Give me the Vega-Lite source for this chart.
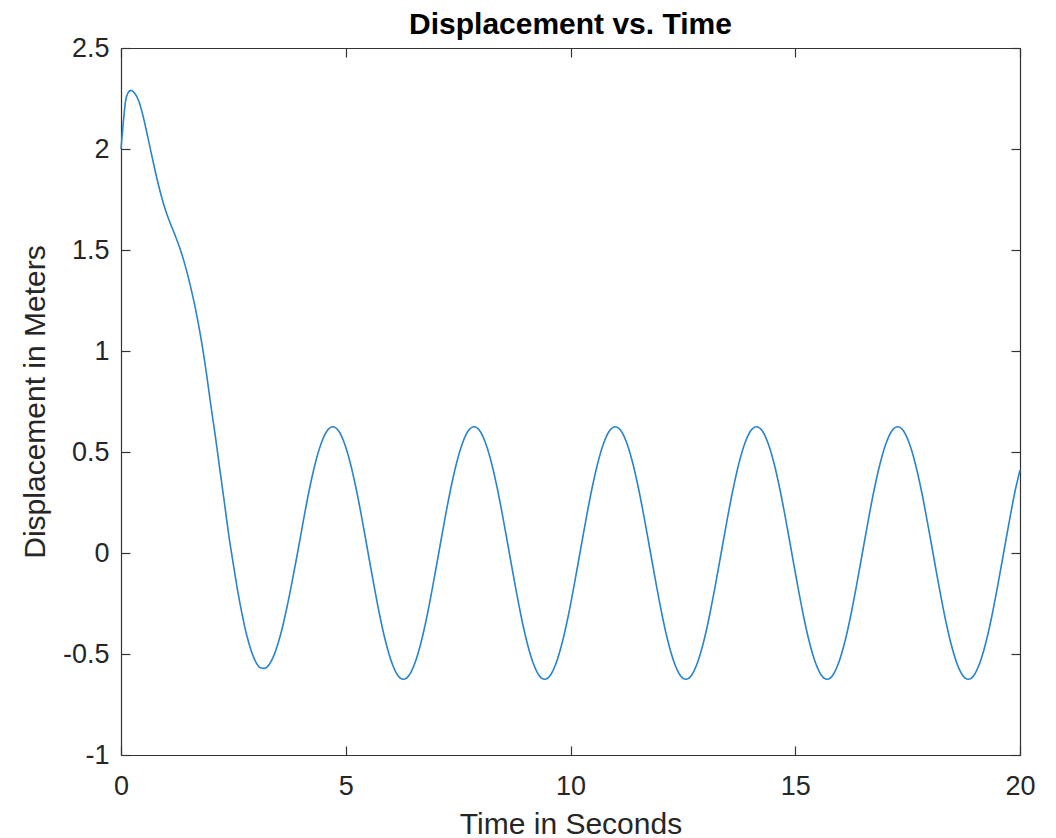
{
  "$schema": "https://vega.github.io/schema/vega-lite/v6.json",
  "width": 899,
  "height": 707,
  "autosize": {"type": "none"},
  "padding": {"left": 121, "top": 48, "right": 36, "bottom": 83},
  "background": "white",
  "title": {
    "text": "Displacement vs. Time",
    "font": "Liberation Sans",
    "fontSize": 30,
    "fontWeight": "bold",
    "color": "#000000",
    "anchor": "middle",
    "baseline": "alphabetic",
    "frame": "group",
    "offset": -30
  },
  "config": {
    "view": {"stroke": null},
    "axis": {
      "grid": false,
      "domainColor": "#333333",
      "domainWidth": 1.2,
      "tickColor": "#333333",
      "tickWidth": 1.2,
      "tickSize": -9,
      "labelFont": "Liberation Sans",
      "labelFontSize": 27,
      "labelColor": "#262626",
      "labelFlush": false,
      "labelOverlap": false,
      "labelBound": false,
      "titleFont": "Liberation Sans",
      "titleFontSize": 30,
      "titleFontWeight": "normal",
      "titleColor": "#262626"
    }
  },
  "data": {
    "values": [
      {"t": 0, "y": 2.0},
      {"t": 0.05, "y": 2.13},
      {"t": 0.1, "y": 2.235},
      {"t": 0.15, "y": 2.275},
      {"t": 0.22, "y": 2.29},
      {"t": 0.3, "y": 2.277},
      {"t": 0.4, "y": 2.235},
      {"t": 0.5, "y": 2.155},
      {"t": 0.6, "y": 2.055},
      {"t": 0.7, "y": 1.952},
      {"t": 0.8, "y": 1.853},
      {"t": 0.9, "y": 1.765},
      {"t": 1.0, "y": 1.69},
      {"t": 1.1, "y": 1.63},
      {"t": 1.2, "y": 1.575},
      {"t": 1.3, "y": 1.515},
      {"t": 1.4, "y": 1.445},
      {"t": 1.5, "y": 1.362},
      {"t": 1.6, "y": 1.268},
      {"t": 1.7, "y": 1.16},
      {"t": 1.8, "y": 1.035},
      {"t": 1.9, "y": 0.89},
      {"t": 2.0, "y": 0.729},
      {"t": 2.1, "y": 0.576},
      {"t": 2.2, "y": 0.412},
      {"t": 2.3, "y": 0.25},
      {"t": 2.4, "y": 0.085},
      {"t": 2.5, "y": -0.057},
      {"t": 2.6, "y": -0.193},
      {"t": 2.7, "y": -0.31},
      {"t": 2.8, "y": -0.41},
      {"t": 2.9, "y": -0.486},
      {"t": 3.0, "y": -0.54},
      {"t": 3.1, "y": -0.568},
      {"t": 3.2, "y": -0.571},
      {"t": 3.3, "y": -0.551},
      {"t": 3.4, "y": -0.508},
      {"t": 3.5, "y": -0.443},
      {"t": 3.6, "y": -0.36},
      {"t": 3.7, "y": -0.26},
      {"t": 3.8, "y": -0.149},
      {"t": 3.927, "y": 0},
      {"t": 4.0579, "y": 0.162},
      {"t": 4.1888, "y": 0.313},
      {"t": 4.3197, "y": 0.442},
      {"t": 4.4506, "y": 0.541},
      {"t": 4.5815, "y": 0.604},
      {"t": 4.7124, "y": 0.625},
      {"t": 4.8433, "y": 0.604},
      {"t": 4.9742, "y": 0.541},
      {"t": 5.1051, "y": 0.442},
      {"t": 5.236, "y": 0.313},
      {"t": 5.3669, "y": 0.162},
      {"t": 5.4978, "y": 0},
      {"t": 5.6287, "y": -0.162},
      {"t": 5.7596, "y": -0.313},
      {"t": 5.8905, "y": -0.442},
      {"t": 6.0214, "y": -0.541},
      {"t": 6.1523, "y": -0.604},
      {"t": 6.2832, "y": -0.625},
      {"t": 6.4141, "y": -0.604},
      {"t": 6.545, "y": -0.541},
      {"t": 6.6759, "y": -0.442},
      {"t": 6.8068, "y": -0.313},
      {"t": 6.9377, "y": -0.162},
      {"t": 7.0686, "y": 0},
      {"t": 7.1995, "y": 0.162},
      {"t": 7.3304, "y": 0.313},
      {"t": 7.4613, "y": 0.442},
      {"t": 7.5922, "y": 0.541},
      {"t": 7.7231, "y": 0.604},
      {"t": 7.854, "y": 0.625},
      {"t": 7.9849, "y": 0.604},
      {"t": 8.1158, "y": 0.541},
      {"t": 8.2467, "y": 0.442},
      {"t": 8.3776, "y": 0.313},
      {"t": 8.5085, "y": 0.162},
      {"t": 8.6394, "y": 0},
      {"t": 8.7703, "y": -0.162},
      {"t": 8.9012, "y": -0.313},
      {"t": 9.0321, "y": -0.442},
      {"t": 9.163, "y": -0.541},
      {"t": 9.2939, "y": -0.604},
      {"t": 9.4248, "y": -0.625},
      {"t": 9.5557, "y": -0.604},
      {"t": 9.6866, "y": -0.541},
      {"t": 9.8175, "y": -0.442},
      {"t": 9.9484, "y": -0.313},
      {"t": 10.0793, "y": -0.162},
      {"t": 10.2102, "y": 0},
      {"t": 10.3411, "y": 0.162},
      {"t": 10.472, "y": 0.313},
      {"t": 10.6029, "y": 0.442},
      {"t": 10.7338, "y": 0.541},
      {"t": 10.8647, "y": 0.604},
      {"t": 10.9956, "y": 0.625},
      {"t": 11.1265, "y": 0.604},
      {"t": 11.2574, "y": 0.541},
      {"t": 11.3883, "y": 0.442},
      {"t": 11.5192, "y": 0.313},
      {"t": 11.6501, "y": 0.162},
      {"t": 11.781, "y": 0},
      {"t": 11.9119, "y": -0.162},
      {"t": 12.0428, "y": -0.313},
      {"t": 12.1737, "y": -0.442},
      {"t": 12.3046, "y": -0.541},
      {"t": 12.4355, "y": -0.604},
      {"t": 12.5664, "y": -0.625},
      {"t": 12.6973, "y": -0.604},
      {"t": 12.8282, "y": -0.541},
      {"t": 12.9591, "y": -0.442},
      {"t": 13.09, "y": -0.313},
      {"t": 13.2209, "y": -0.162},
      {"t": 13.3518, "y": 0},
      {"t": 13.4827, "y": 0.162},
      {"t": 13.6136, "y": 0.313},
      {"t": 13.7445, "y": 0.442},
      {"t": 13.8754, "y": 0.541},
      {"t": 14.0063, "y": 0.604},
      {"t": 14.1372, "y": 0.625},
      {"t": 14.2681, "y": 0.604},
      {"t": 14.399, "y": 0.541},
      {"t": 14.5299, "y": 0.442},
      {"t": 14.6608, "y": 0.313},
      {"t": 14.7917, "y": 0.162},
      {"t": 14.9226, "y": 0},
      {"t": 15.0535, "y": -0.162},
      {"t": 15.1844, "y": -0.313},
      {"t": 15.3153, "y": -0.442},
      {"t": 15.4462, "y": -0.541},
      {"t": 15.5771, "y": -0.604},
      {"t": 15.708, "y": -0.625},
      {"t": 15.8389, "y": -0.604},
      {"t": 15.9698, "y": -0.541},
      {"t": 16.1007, "y": -0.442},
      {"t": 16.2316, "y": -0.313},
      {"t": 16.3625, "y": -0.162},
      {"t": 16.4934, "y": 0},
      {"t": 16.6243, "y": 0.162},
      {"t": 16.7552, "y": 0.313},
      {"t": 16.8861, "y": 0.442},
      {"t": 17.017, "y": 0.541},
      {"t": 17.1479, "y": 0.604},
      {"t": 17.2788, "y": 0.625},
      {"t": 17.4097, "y": 0.604},
      {"t": 17.5406, "y": 0.541},
      {"t": 17.6715, "y": 0.442},
      {"t": 17.8024, "y": 0.313},
      {"t": 17.9333, "y": 0.162},
      {"t": 18.0642, "y": 0},
      {"t": 18.1951, "y": -0.162},
      {"t": 18.326, "y": -0.313},
      {"t": 18.4569, "y": -0.442},
      {"t": 18.5878, "y": -0.541},
      {"t": 18.7187, "y": -0.604},
      {"t": 18.8496, "y": -0.625},
      {"t": 18.9805, "y": -0.604},
      {"t": 19.1114, "y": -0.541},
      {"t": 19.2423, "y": -0.442},
      {"t": 19.3732, "y": -0.313},
      {"t": 19.5041, "y": -0.162},
      {"t": 19.635, "y": 0},
      {"t": 19.7659, "y": 0.162},
      {"t": 19.8968, "y": 0.313},
      {"t": 20, "y": 0.41}
    ]
  },
  "layer": [
    {
      "mark": {"type": "line", "color": "#2a84cb", "strokeWidth": 1.6, "interpolate": "monotone"},
      "encoding": {
        "x": {
          "field": "t", "type": "quantitative",
          "scale": {"domain": [0, 20], "nice": false, "zero": false},
          "axis": {"orient": "bottom", "values": [0, 5, 10, 15, 20], "labelExpr": "'' + datum.value", "labelPadding": 27, "title": "Time in Seconds", "titlePadding": 10}
        },
        "y": {
          "field": "y", "type": "quantitative",
          "scale": {"domain": [-1, 2.5], "nice": false, "zero": false},
          "axis": {"orient": "left", "values": [-1, -0.5, 0, 0.5, 1, 1.5, 2, 2.5], "labelExpr": "'' + datum.value", "labelPadding": 21, "title": "Displacement in Meters", "titlePadding": 12}
        }
      }
    },
    {
      "mark": {"type": "line", "strokeOpacity": 0, "interpolate": "monotone"},
      "encoding": {
        "x": {
          "field": "t", "type": "quantitative",
          "scale": {"domain": [0, 20], "nice": false, "zero": false},
          "axis": {"orient": "top", "values": [0, 5, 10, 15, 20], "labels": false, "title": null}
        },
        "y": {
          "field": "y", "type": "quantitative",
          "scale": {"domain": [-1, 2.5], "nice": false, "zero": false},
          "axis": {"orient": "right", "values": [-1, -0.5, 0, 0.5, 1, 1.5, 2, 2.5], "labels": false, "title": null}
        }
      }
    }
  ],
  "resolve": {"axis": {"x": "independent", "y": "independent"}}
}
